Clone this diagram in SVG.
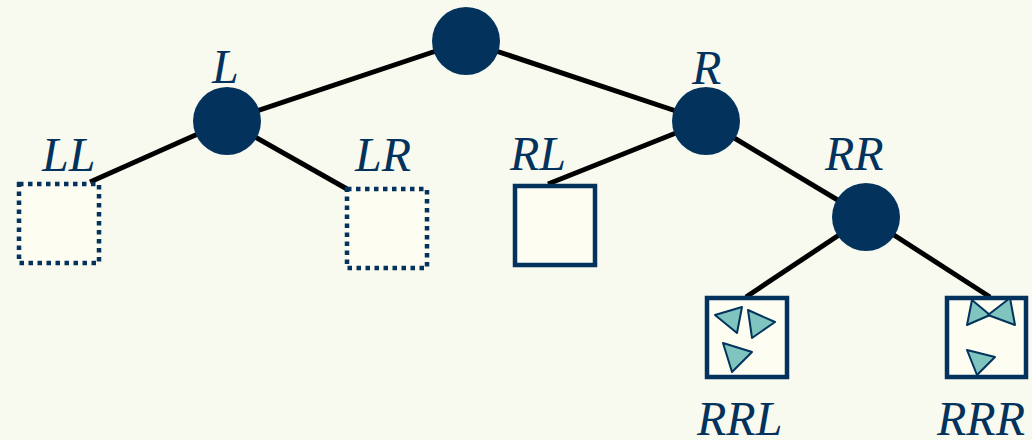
<svg xmlns="http://www.w3.org/2000/svg" width="1032" height="440" viewBox="0 0 1032 440">
<style>
.node{fill:#03335C}
.edge{stroke:#000;stroke-width:5;fill:none}
.box{fill:#FDFDF2;stroke:#03335C;stroke-width:4.5}
.dot{stroke-dasharray:4.5 4.5}
.tri{fill:#7FC4BE;stroke:#03335C;stroke-width:2;stroke-linejoin:round}
.lbl{font-family:"Liberation Serif",serif;font-style:italic;font-size:48px;fill:#03335C}
</style>
<rect width="1032" height="440" fill="#F9FAEF"/>
<g id="connectors">
<line class="edge" x1="466" y1="41" x2="227" y2="121"/>
<line class="edge" x1="466" y1="41" x2="706" y2="121"/>
<line class="edge" x1="227" y1="121" x2="90" y2="182"/>
<line class="edge" x1="227" y1="121" x2="347" y2="189"/>
<line class="edge" x1="706" y1="121" x2="548" y2="184"/>
<line class="edge" x1="706" y1="121" x2="866" y2="217"/>
<line class="edge" x1="866" y1="217" x2="746" y2="297"/>
<line class="edge" x1="866" y1="217" x2="990" y2="297"/>
</g>
<g id="root"><circle class="node" cx="466" cy="41" r="34"/></g>
<g id="L"><circle class="node" cx="227" cy="121" r="34"/><text class="lbl" x="212" y="83">L</text></g>
<g id="R"><circle class="node" cx="706" cy="121" r="34"/><text class="lbl" x="692" y="84">R</text></g>
<g id="RR"><circle class="node" cx="866" cy="217" r="34"/><text class="lbl" x="825" y="170">RR</text></g>
<g id="LL"><rect class="box dot" x="19" y="184" width="80" height="79"/><text class="lbl" x="42" y="171">LL</text></g>
<g id="LR"><rect class="box dot" x="347" y="189" width="80" height="79"/><text class="lbl" x="355" y="171">LR</text></g>
<g id="RL"><rect class="box" x="515" y="186" width="80" height="79"/><text class="lbl" x="510" y="170">RL</text></g>
<g id="RRL"><rect class="box" x="707" y="298" width="80" height="79"/>
<polygon class="tri" points="715,315 742,307 737,333"/>
<polygon class="tri" points="748,310 775,322 752,338"/>
<polygon class="tri" points="723,343 752,352 732,372"/>
<text class="lbl" x="697" y="435">RRL</text></g>
<g id="RRR"><rect class="box" x="947" y="298" width="79" height="79"/>
<polygon class="tri" points="972,300 990,315 967,325"/>
<polygon class="tri" points="1010,298 1015,325 988,315"/>
<polygon class="tri" points="967,350 995,357 977,375"/>
<text class="lbl" x="937" y="435">RRR</text></g>
</svg>
